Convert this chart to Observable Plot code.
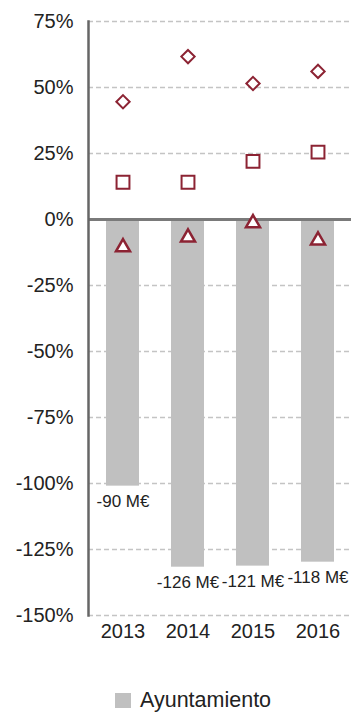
<!DOCTYPE html>
<html>
<head>
<meta charset="utf-8">
<script src="https://cdn.jsdelivr.net/npm/d3@7"></script>
<script src="https://cdn.jsdelivr.net/npm/@observablehq/plot@0.6"></script>
<style>
  html, body { margin: 0; padding: 0; background: white; }
  #wrap { position: relative; width: 357px; height: 714px; font-family: "Liberation Sans", Arial, sans-serif; }
  #chart svg { display: block; }
  #legend { margin-top: 27px; margin-left: 115px; height: 26px; display: flex; align-items: center; font-size: 21.5px; color: #222; line-height: 26px; }
  #legend .sw { width: 16px; height: 15px; background: #c0c0c0; margin-right: 9px; flex: none; }
</style>
</head>
<body>
<div id="wrap">
  <div id="chart"></div>
  <div id="legend"><span class="sw"></span><span>Ayuntamiento</span></div>
</div>
<script>
const years = ["2013", "2014", "2015", "2016"];
const ayuntamiento = [-101, -131.7, -131.3, -129.8];
const barLabels = ["-90 M€", "-126 M€", "-121 M€", "-118 M€"];
const diamondSeries = [44.6, 61.7, 51.5, 56.1];
const squareSeries = [14.1, 14.1, 22.0, 25.5];
const triangleSeries = [-10.5, -6.8, -1.4, -7.9];
const yTicks = [-150, -125, -100, -75, -50, -25, 0, 25, 50, 75];

const bars = years.map((y, i) => ({year: y, value: ayuntamiento[i], label: barLabels[i]}));
const diamonds = years.map((y, i) => ({year: y, value: diamondSeries[i]}));
const squares = years.map((y, i) => ({year: y, value: squareSeries[i]}));
const triangles = years.map((y, i) => ({year: y, value: triangleSeries[i]}));

const red = "#8c2333";
const font = "'Liberation Sans', Arial, sans-serif";

const chart = Plot.plot({
  width: 357,
  height: 660,
  marginTop: 21,
  marginBottom: 45,
  marginLeft: 88,
  marginRight: 6,
  style: {fontFamily: font, fontSize: "20px", color: "#222", background: "white"},
  x: {type: "band", domain: years, paddingInner: 0.5, paddingOuter: 0.25, label: null},
  y: {domain: [-150, 75], label: null},
  marks: [
    Plot.gridY(yTicks.filter(d => d !== 0), {stroke: "#c4c4c4", strokeOpacity: 1, strokeWidth: 1.3, strokeDasharray: "5,3"}),
    Plot.barY(bars, {x: "year", y: "value", fill: "#c0c0c0"}),
    Plot.ruleY([0], {stroke: "#7a7a7a", strokeWidth: 3}),
    Plot.frame({anchor: "left", stroke: "#666", strokeWidth: 2.5}),
    Plot.axisY({ticks: yTicks, tickSize: 0, tickPadding: 15, tickFormat: d => d + "%", fill: "#222", fontSize: 20}),
    Plot.axisX({tickSize: 0, tickPadding: 8, fill: "#222", fontSize: 20}),
    Plot.text(bars, {x: "year", y: "value", text: "label", dy: 15, fontSize: 17, fill: "#222"}),
    Plot.dot(diamonds, {x: "year", y: "value", symbol: "diamond2", r: 6, stroke: red, strokeWidth: 2, fill: "white"}),
    Plot.dot(squares, {x: "year", y: "value", symbol: "square2", r: 8.2, stroke: red, strokeWidth: 2, fill: "white"}),
    Plot.dot(triangles, {x: "year", y: "value", symbol: "triangle2", r: 6.7, stroke: red, strokeWidth: 2.5, fill: "white"})
  ]
});
document.getElementById("chart").appendChild(chart);
</script>
</body>
</html>
